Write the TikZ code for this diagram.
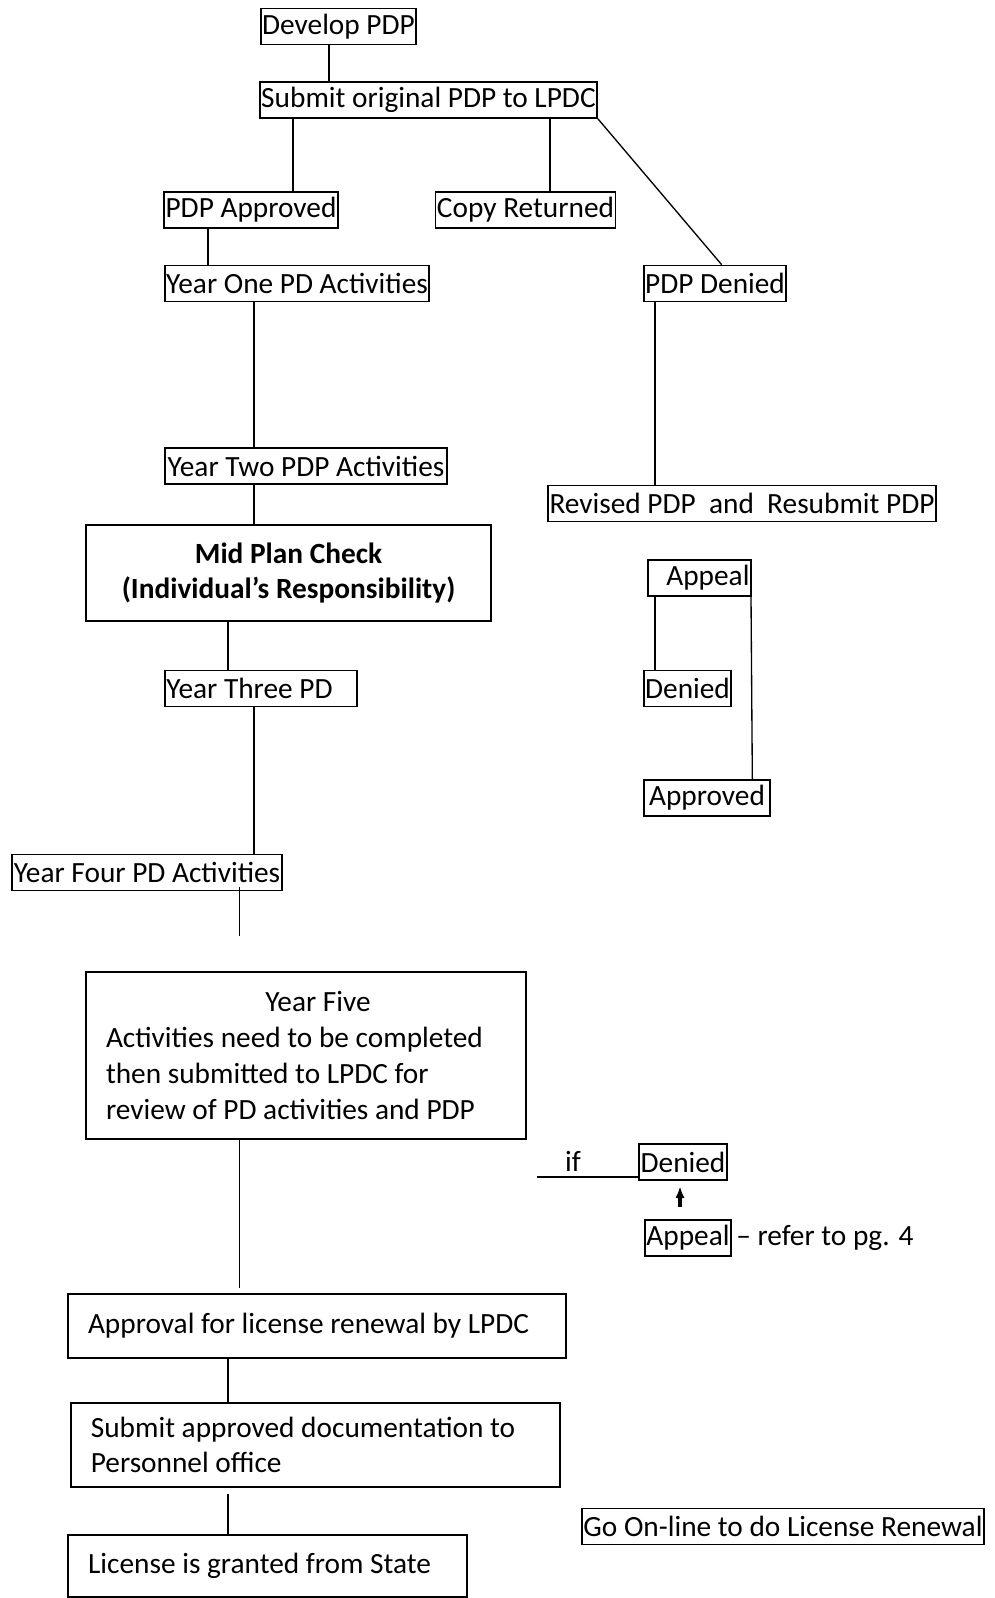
\documentclass[tikz,border=0pt]{standalone}
\usepackage{fontspec}
\setmainfont{Carlito}
\usetikzlibrary{positioning,arrows.meta}

\tikzset{every picture/.style={line width=0.75pt}}
\tikzset{
  plainbox/.style={draw, line width=1.2pt, inner sep=1pt, minimum height=27pt},
  textbox/.style={draw, line width=1.2pt, inner ysep=1pt, inner xsep=15pt, align=flush left},
  link/.style={line width=1pt}
}

\begin{document}
\begin{tikzpicture}[x=0.75pt,y=0.75pt,yscale=-1,xscale=1,font=\fontsize{22}{26.8}\selectfont]
\useasboundingbox (0,0) rectangle (995,1598);

% columns for the connectors
\coordinate (xa) at (329,0);
\coordinate (xb) at (293,0);
\coordinate (xc) at (550,0);
\coordinate (xd) at (208,0);
\coordinate (xe) at (254,0);
\coordinate (xf) at (655,0);
\coordinate (xg) at (228,0);
\coordinate (xh) at (239.5,0);
\coordinate (xi) at (751,0);
\coordinate (xj) at (680,0);

% Left column
\node[plainbox, minimum width=116pt] (dev) at (338.5,26.5) {Develop PDP};
\node[plainbox, minimum width=251pt] (sub) at (428.5,100) {Submit original PDP to LPDC};
\node[plainbox, minimum width=129pt] (appr) at (251,210) {PDP Approved};
\node[plainbox, minimum width=134pt] (copy) at (525.5,210) {Copy Returned};
\node[plainbox, minimum width=198pt] (one) at (297,283.5) {Year One PD Activities};
\node[plainbox, minimum width=106.5pt] (den) at (715,283.5) {PDP Denied};
\node[plainbox, minimum width=211.5pt] (two) at (306,466) {Year Two PDP Activities};
\node[plainbox, minimum width=291pt] (rev) at (742,503.5) {Revised PDP \ and \ Resubmit PDP};
\node[plainbox, minimum width=304pt, minimum height=72pt, align=center, font=\fontsize{22}{26.8}\selectfont\bfseries] (mid) at (288.5,573) {Mid Plan Check\\(Individual’s Responsibility)};
\node[plainbox, text width=142pt, align=flush left] (three) at (261,688.5) {Year Three PD};
\node[plainbox, minimum width=202.5pt] (four) at (147,872.5) {Year Four PD Activities};
\coordinate (fourend) at (239.5,936);

% Appeal branch
\node[plainbox, text width=75pt, align=flush right] (apl) at (699.5,578) {Appeal};
\node[plainbox, minimum width=65pt] (dena) at (687.5,688.5) {Denied};
\node[plainbox, minimum width=94.5pt] (appa) at (707,798) {Approved};

% Year five and the end
\node[textbox, text width=300pt, minimum height=125pt] (five) at (306,1055.5) {\makebox[300pt]{\hspace{18pt}Year Five}\\Activities need to be completed\\then submitted to LPDC for\\review of PD activities and PDP};
\node[plainbox, minimum width=64.5pt] (denb) at (683,1162) {Denied};
\coordinate (ifl) at (537,1177);
\node[anchor=base, inner sep=0pt] (iftext) at (573,1171) {if};
\node[plainbox, minimum width=64.5pt] (aplb) at (688,1238) {Appeal};
\node[right=3pt of aplb, inner sep=0pt] (ref) {– refer to pg. 4};
\node[textbox, text width=343.5pt, minimum height=48pt] (lic) at (317,1326) {Approval for license renewal by LPDC};
\node[textbox, text width=337pt, minimum height=63pt] (doc) at (315.5,1445) {Submit approved documentation to\\Personnel office};
\node[textbox, text width=269pt, minimum height=46.5pt] (state) at (267.5,1566) {License is granted from State};
\node[plainbox, minimum width=301.5pt] (online) at (783,1526.5) {Go On-line to do License Renewal};

% Connections
\draw[link] (dev.south -| xa) -- (sub.north -| xa);
\draw[link] (sub.south -| xb) -- (appr.north -| xb);
\draw[link] (sub.south -| xc) -- (copy.north -| xc);
\draw[link] (sub.south east) -- ([xshift=5pt]den.north);
\draw[link] (appr.south -| xd) -- (one.north -| xd);
\draw[link] (one.south -| xe) -- (two.north -| xe);
\draw[link] (den.south -| xf) -- (rev.north -| xf);
\draw[link] (two.south -| xe) -- (mid.north -| xe);
\draw[link] (mid.south -| xg) -- (three.north -| xg);
\draw[link] (three.south -| xe) -- (four.north -| xe);
\draw[link] ([yshift=-3pt]four.south -| xh) -- (fourend);
\draw[link] (apl.south -| xf) -- (dena.north -| xf);
\draw[link] (apl.south -| xi) -- ([xshift=1pt]appa.north -| xi);
\draw[link, shorten >=4pt] (five.south -| xh) -- (lic.north -| xh);
\draw[link] (ifl) -- (ifl -| denb.west);
\draw[line width=2.5pt, -{Latex[length=9pt,width=7pt]}, shorten <=9pt, shorten >=4pt] (aplb.north -| xj) -- (denb.south -| xj);
\draw[link] (lic.south -| xg) -- (doc.north -| xg);
\draw[link, shorten <=5pt] (doc.south -| xg) -- (state.north -| xg);

\end{tikzpicture}
\end{document}
